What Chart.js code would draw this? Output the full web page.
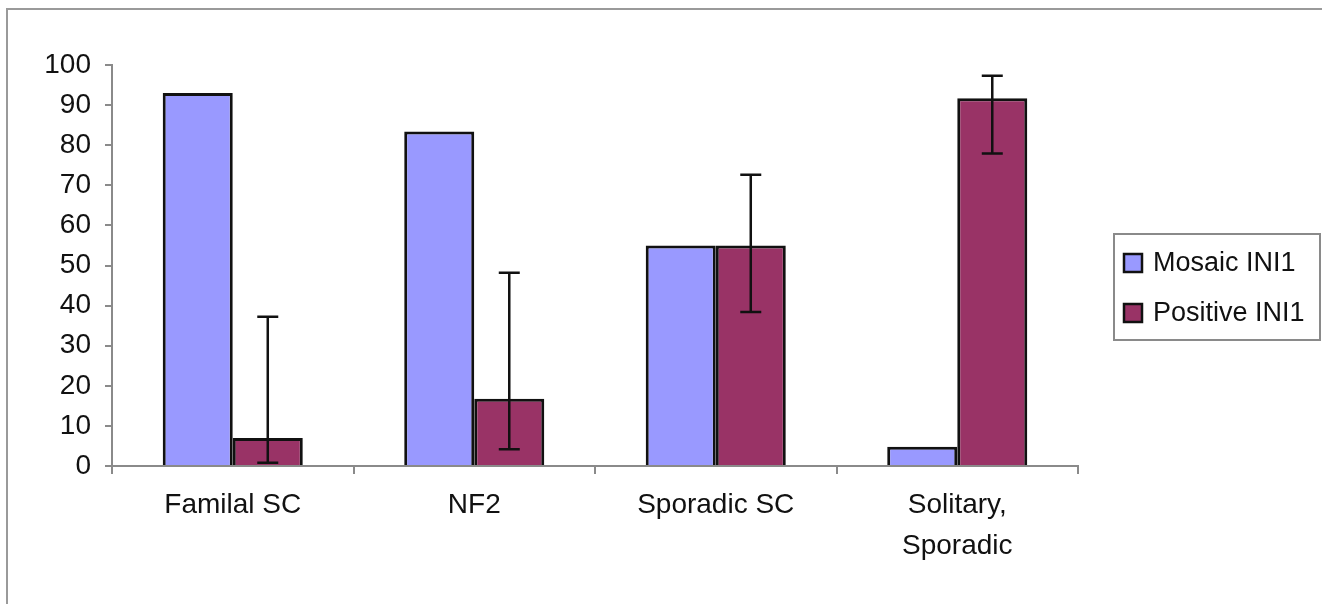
<!DOCTYPE html>
<html>
<head>
<meta charset="utf-8">
<script src="https://cdn.jsdelivr.net/npm/chart.js@4.4.1/dist/chart.umd.min.js"></script>
<style>
  html, body { margin: 0; padding: 0; background: #ffffff; }
  #wrap { position: relative; width: 1322px; height: 604px; }
  #frame { position: absolute; left: 6px; top: 8px; width: 1330px; height: 620px;
           border-top: 2px solid #9a9a9a; border-left: 2px solid #9a9a9a; pointer-events: none; }
  canvas { position: absolute; left: 0; top: 0; }
</style>
</head>
<body>
<div id="wrap">
  <canvas id="c" width="1322" height="604"></canvas>
  <div id="frame"></div>
</div>
<script>
const categories = [["Familal SC"], ["NF2"], ["Sporadic SC"], ["Solitary,", "Sporadic"]];
const seriesNames = ["Mosaic INI1", "Positive INI1"];
const mosaicValues = [93, 83.4, 55, 4.8];
const positiveValues = [7, 16.8, 55, 91.7];
const positiveErrLow = [0.8, 4.2, 38.4, 77.9];
const positiveErrHigh = [37.2, 48.2, 72.6, 97.3];
const yTicks = [0, 10, 20, 30, 40, 50, 60, 70, 80, 90, 100];

const FONT = "'Liberation Sans', Arial, sans-serif";

const errorBarPlugin = {
  id: 'errorBars',
  afterDatasetsDraw(chart) {
    const ctx = chart.ctx;
    const y = chart.scales.y;
    chart.data.datasets.forEach((ds, di) => {
      if (!ds.errLow) return;
      const meta = chart.getDatasetMeta(di);
      meta.data.forEach((bar, i) => {
        const x = bar.x;
        const yl = y.getPixelForValue(ds.errLow[i]);
        const yh = y.getPixelForValue(ds.errHigh[i]);
        ctx.save();
        ctx.strokeStyle = '#111';
        ctx.lineWidth = 2.5;
        ctx.beginPath();
        ctx.moveTo(x, yl); ctx.lineTo(x, yh);
        ctx.moveTo(x - 10.5, yl); ctx.lineTo(x + 10.5, yl);
        ctx.moveTo(x - 10.5, yh); ctx.lineTo(x + 10.5, yh);
        ctx.stroke();
        ctx.restore();
      });
    });
  }
};

const boxLegendPlugin = {
  id: 'boxLegend',
  afterDraw(chart) {
    const ctx = chart.ctx;
    const left = 1114, top = 234, right = 1320, bottom = 340;
    ctx.save();
    ctx.strokeStyle = '#8a8a8a';
    ctx.lineWidth = 2;
    ctx.strokeRect(left, top, right - left, bottom - top);
    ctx.font = '27px ' + FONT;
    ctx.textBaseline = 'middle';
    const rows = [263, 313];
    chart.data.datasets.forEach((ds, i) => {
      const cy = rows[i];
      ctx.fillStyle = ds.backgroundColor;
      ctx.fillRect(1124, cy - 9, 18, 18);
      ctx.strokeStyle = '#111';
      ctx.lineWidth = 2.5;
      ctx.strokeRect(1124, cy - 9, 18, 18);
      ctx.fillStyle = '#111';
      ctx.fillText(ds.label, 1153, cy + 1);
    });
    ctx.restore();
  }
};

new Chart(document.getElementById('c'), {
  type: 'bar',
  data: {
    labels: categories,
    datasets: [
      { label: seriesNames[0], data: mosaicValues, backgroundColor: '#9999ff',
        borderColor: '#111', borderWidth: 3, borderSkipped: 'bottom',
        categoryPercentage: 0.58, barPercentage: 1.0 },
      { label: seriesNames[1], data: positiveValues, backgroundColor: '#993366',
        borderColor: '#111', borderWidth: 3, borderSkipped: 'bottom',
        categoryPercentage: 0.58, barPercentage: 1.0,
        errLow: positiveErrLow, errHigh: positiveErrHigh }
    ]
  },
  options: {
    responsive: false,
    animation: false,
    devicePixelRatio: 1,
    layout: { padding: { left: 32, right: 244, top: 65, bottom: 0 } },
    plugins: { legend: { display: false }, tooltip: { enabled: false } },
    scales: {
      x: {
        offset: true,
        grid: { display: true, offset: true, drawOnChartArea: false, drawTicks: true,
                tickLength: 8, color: '#8a8a8a', lineWidth: 2 },
        border: { display: true, color: '#8a8a8a', width: 2 },
        ticks: { color: '#111', padding: 11, maxRotation: 0, autoSkip: false,
                 font: { family: FONT, size: 28, lineHeight: 1.45 } },
        afterFit(scale) { scale.height = 138; }
      },
      y: {
        min: 0, max: 100,
        afterBuildTicks(scale) { scale.ticks = yTicks.map(v => ({ value: v })); },
        grid: { display: true, drawOnChartArea: false, drawTicks: true,
                tickLength: 7, color: '#8a8a8a', lineWidth: 2 },
        border: { display: true, color: '#8a8a8a', width: 2 },
        ticks: { color: '#111', padding: 14, font: { family: FONT, size: 28 } },
        afterFit(scale) { scale.width = 80; }
      }
    }
  },
  plugins: [errorBarPlugin, boxLegendPlugin]
});
</script>
</body>
</html>
